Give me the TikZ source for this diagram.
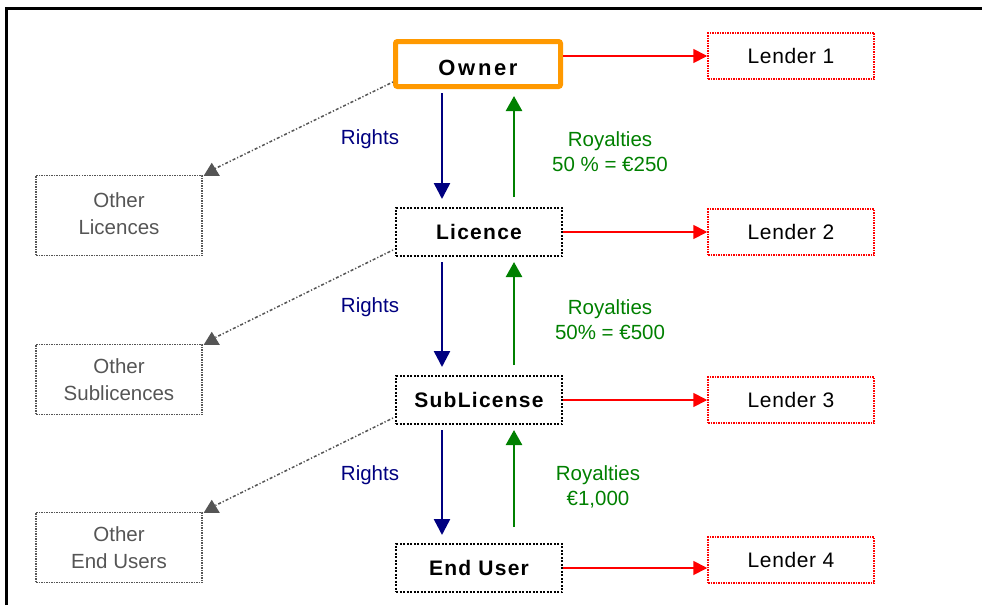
\documentclass[tikz,border=0pt]{standalone}
\usepackage{fontspec}
\setmainfont{Liberation Sans}
\usetikzlibrary{arrows.meta,calc}
\definecolor{orng}{HTML}{FF9900}
\definecolor{navyc}{HTML}{000080}
\definecolor{grn}{HTML}{008000}
\definecolor{gry}{HTML}{555555}
\begin{document}
\begin{tikzpicture}[x=1pt,y=-1pt,
 font=\fontsize{20.5}{25}\selectfont,
 bbox/.style={draw=black, line width=2pt, dash pattern=on 2pt off 1.5pt, minimum width=166pt, minimum height=48pt, inner sep=0pt, font=\fontsize{21}{25}\selectfont\bfseries\addfontfeature{LetterSpace=6}},
 ownbox/.style={draw=orng, line width=5pt, rounded corners=2pt, minimum width=165pt, minimum height=45pt, inner sep=0pt, font=\fontsize{22}{25}\selectfont\bfseries\addfontfeature{LetterSpace=12}},
 lbox/.style={draw=red, line width=1.5pt, dash pattern=on 1.5pt off 1pt, minimum width=166pt, minimum height=46pt, inner sep=0pt, font=\fontsize{21}{25}\selectfont\addfontfeature{LetterSpace=3}},
 obox/.style={draw=gry, line width=1.5pt, dash pattern=on 1.5pt off 1pt, minimum width=166pt, inner sep=0pt, text=gry, align=center, font=\fontsize{20.5}{27}\selectfont},
 rarr/.style={draw=red, line width=1.8pt, -{Triangle[length=14pt,width=14pt]}},
 darr/.style={draw=navyc, line width=2.5pt, -{Triangle[length=16pt,width=16pt]}},
 uarr/.style={draw=grn, line width=2.5pt, -{Triangle[length=15pt,width=16pt]}},
 garr/.style={draw=gry, line width=1.5pt, dash pattern=on 1.2pt off 2pt on 3pt off 2pt},
 gtip/.style={fill=gry},
 rlab/.style={text=navyc},
 ylab/.style={text=grn, align=center},
]
\useasboundingbox (0,0) rectangle (982,605);
\draw[line width=3pt] (6,605) -- (6,8) -- (982,8);

\node[ownbox] (owner) at (478,64) {\raisebox{-11pt}[0pt][0pt]{Owner}};
\node[bbox] (licence) at (479,232) {Licence};
\node[bbox] (sub) at (479,400) {SubLicense};
\node[bbox] (enduser) at (479,568) {End User};

\node[lbox] (lender1) at (791,56) {Lender 1};
\node[lbox] (lender2) at (791,232) {Lender 2};
\node[lbox] (lender3) at (791,400) {Lender 3};
\node[lbox] (lender4) at (791,560) {Lender 4};

\node[obox, minimum height=80pt] (oth1) at (119,215.5) {\raisebox{4pt}{\begin{tabular}{@{}c@{}}Other\\Licences\end{tabular}}};
\node[obox, minimum height=70pt] (oth2) at (119,379.5) {Other\\Sublicences};
\node[obox, minimum height=70pt] (oth3) at (119,547.5) {Other\\End Users};

\coordinate (bx) at (442,0);
\coordinate (gx) at (514,0);

% rights (down)
\draw[darr] ($(bx |- owner.south)+(0,4)$) -- ($(bx |- licence.north)+(0,-8)$);
\draw[darr] ($(bx |- licence.south)+(0,5)$) -- ($(bx |- sub.north)+(0,-8)$);
\draw[darr] ($(bx |- sub.south)+(0,5)$) -- ($(bx |- enduser.north)+(0,-8)$);
% royalties (up)
\draw[uarr] ($(gx |- licence.north)+(0,-10)$) -- ($(gx |- owner.south)+(0,7)$);
\draw[uarr] ($(gx |- sub.north)+(0,-10)$) -- ($(gx |- licence.south)+(0,5)$);
\draw[uarr] ($(gx |- enduser.north)+(0,-16)$) -- ($(gx |- sub.south)+(0,5)$);

% lenders
\draw[rarr] (owner.east |- lender1.west) -- (lender1.west);
\draw[rarr] (licence.east) -- (lender2.west);
\draw[rarr] (sub.east) -- (lender3.west);
\draw[rarr] (enduser.east) -- (lender4.west |- enduser.east);

% other connectors
\coordinate (t1) at ($(oth1.north east)+(9,-12)$);
\coordinate (t2) at ($(oth2.north east)+(9,-12)$);
\coordinate (t3) at ($(oth3.north east)+(9,-12)$);
\draw[garr] ($(owner.south west)+(0,-7)$) -- ($(t1)+(3,6)$);
\draw[garr] ($(licence.south west)+(-2,-7)$) -- ($(t2)+(3,6)$);
\draw[garr] ($(sub.south west)+(-2,-7)$) -- ($(t3)+(3,6)$);
\fill[gtip] (t1) -- ++(-8,13) -- ++(16,0) -- cycle;
\fill[gtip] (t2) -- ++(-8,13) -- ++(16,0) -- cycle;
\fill[gtip] (t3) -- ++(-8,13) -- ++(16,0) -- cycle;

% labels
\node[rlab] (r1) at (370,139) {Rights};
\node[rlab] (r2) at (370,307) {Rights};
\node[rlab] (r3) at (370,475) {Rights};
\node[ylab] (y1) at (610,152) {Royalties\\50 \% = €250};
\node[ylab] (y2) at (610,320) {Royalties\\50\% = €500};
\node[ylab] (y3) at (598,487) {Royalties\\€1,000};
\end{tikzpicture}
\end{document}
